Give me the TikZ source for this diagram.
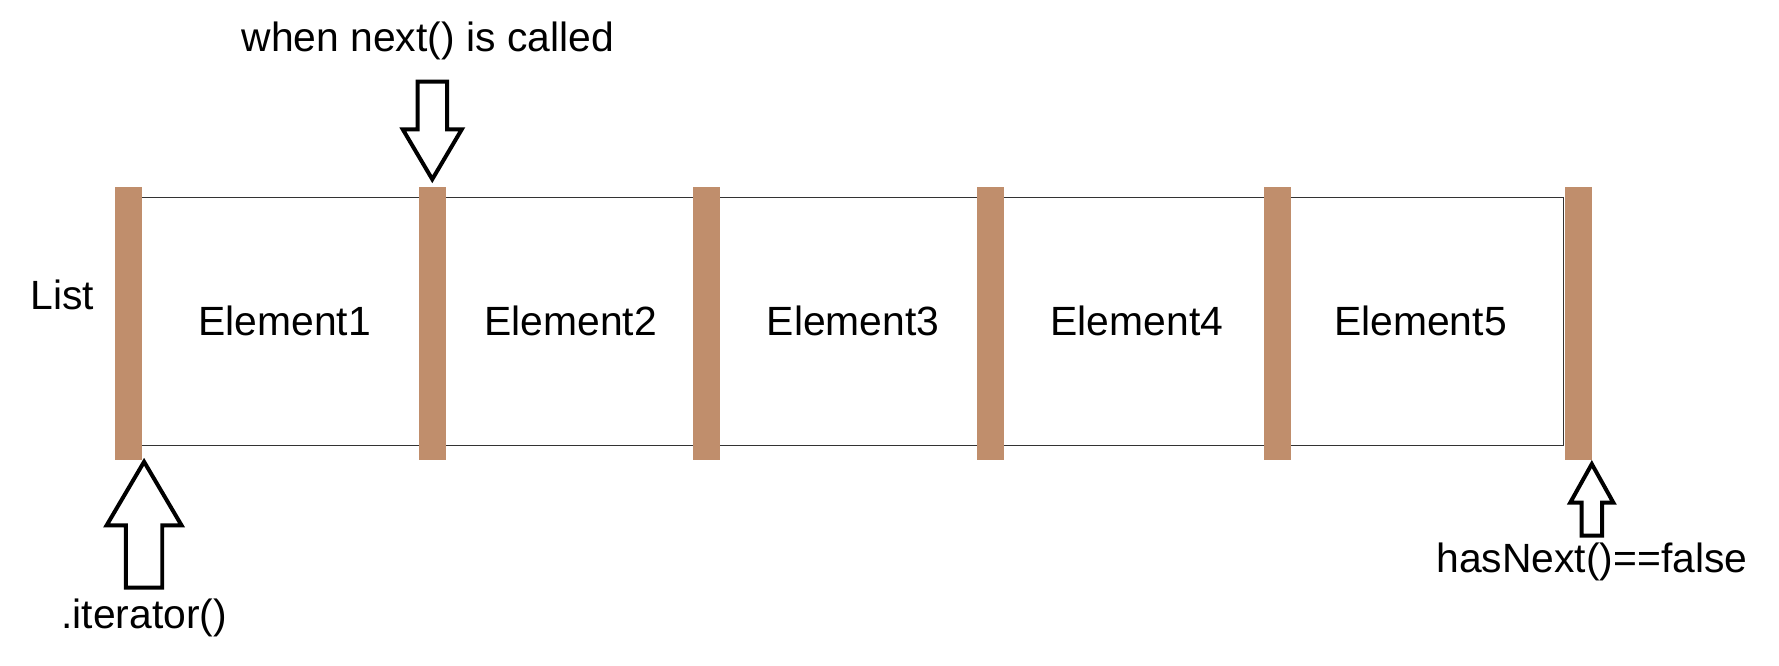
\documentclass[tikz,border=0pt]{standalone}
\usepackage{fontspec}
\setmainfont{Liberation Sans}
\begin{document}
\begin{tikzpicture}[x=1pt,y=-1pt,
  bar/.style={fill={rgb,255:red,192;green,142;blue,108},draw=none},
  lbl/.style={font=\fontsize{36}{40}\selectfont,inner sep=0pt},
  hollow/.style={draw=black,line width=3.5pt,fill=white,line join=miter}]
\useasboundingbox (0,0) rectangle (1568,587);
\draw[line width=1pt,draw=black!80] (125,174) rectangle (1378,393);
\foreach \x/\n in {113/b0,381/b1,623/b2,873/b3,1126/b4,1391/b5}
  \fill[bar] (\x-12,165) rectangle (\x+12,405) coordinate (\n);
\foreach \x/\i in {251/1,503/2,752/3,1002/4,1252/5}
  \node[lbl] (e\i) at (\x,283) {Element\i};
\node[lbl] (list) at (55,260) {List};
\node[lbl] (nx) at (377,36) {when next() is called};
\node[lbl] (it) at (127,545) {.iterator()};
\node[lbl] (hn) at (1403,495) {hasNext()==false};
% down arrow
\draw[hollow] (368,72) -- (394,72) -- (394,114) -- (407,114) -- (381,158) -- (355,114) -- (368,114) -- cycle;
% up arrow left
\draw[hollow] (111,518) -- (143,518) -- (143,463) -- (160,463) -- (127,407) -- (94,463) -- (111,463) -- cycle;
% up arrow right
\draw[hollow] (1394,472) -- (1412,472) -- (1412,443) -- (1422,443) -- (1403,409) -- (1384,443) -- (1394,443) -- cycle;
\end{tikzpicture}
\end{document}
